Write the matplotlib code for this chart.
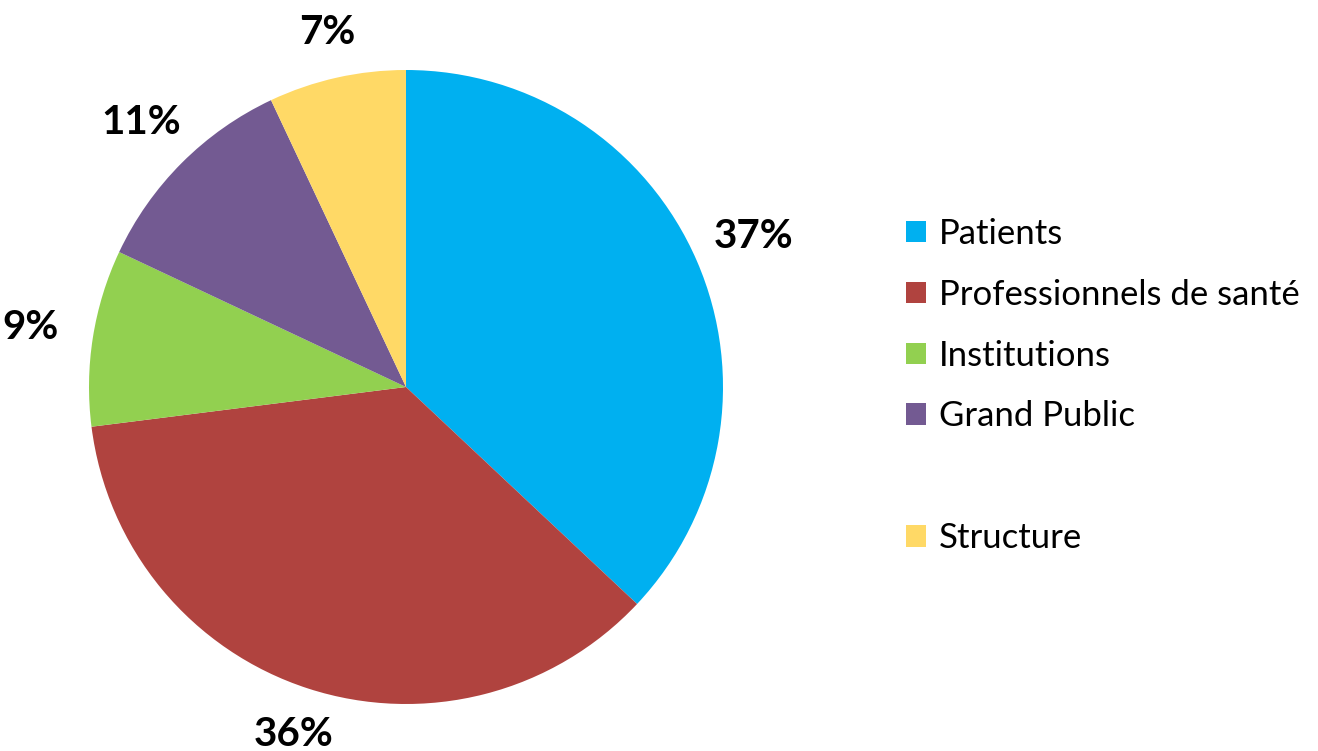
import numpy as np
import matplotlib.pyplot as plt
from matplotlib.patches import Patch

categories = ['Patients', 'Professionnels de santé', 'Institutions', 'Grand Public', 'Structure']
values = [37, 36, 9, 11, 7]
colors = ['#00B0F0', '#B0433F', '#92D050', '#735A92', '#FFD966']

plt.rcParams['font.family'] = ['Lato', 'DejaVu Sans']

W, H = 1318, 751
fig = plt.figure(figsize=(W / 100, H / 100), dpi=100)

# centre du camembert (406, 387) px, rayon 317 px
cx, cy, r = 406, 387, 317
ax = fig.add_axes([(cx - r) / W, (H - cy - r) / H, 2 * r / W, 2 * r / H])

wedges, texts, autotexts = ax.pie(
    values, colors=colors, startangle=90, counterclock=False,
    autopct='%d%%', pctdistance=1.18,
    wedgeprops=dict(linewidth=0),
    textprops=dict(fontsize=29, fontweight='bold', color='black'),
)

# étiquettes horizontales un peu plus loin que les verticales (comme Excel)
for w, t in zip(wedges, autotexts):
    ang = np.deg2rad((w.theta1 + w.theta2) / 2)
    d = 1.13 + 0.07 * abs(np.cos(ang))
    t.set_position((d * np.cos(ang), d * np.sin(ang)))

ax.set_xlim(-1, 1)
ax.set_ylim(-1, 1)
ax.set_aspect('equal')
ax.axis('off')

# ligne vide entre "Grand Public" et "Structure"
blank = Patch(facecolor='none', edgecolor='none')
handles = list(wedges[:4]) + [blank, wedges[4]]
labels = categories[:4] + [''] + [categories[4]]

fig.legend(handles, labels, loc='center left', bbox_to_anchor=(906 / W, 1 - 386 / H),
           frameon=False, fontsize=25, handlelength=0.58, handleheight=0.58,
           handletextpad=0.37, labelspacing=0.83, borderpad=0, borderaxespad=0)

fig.savefig('out.png', dpi=100)
